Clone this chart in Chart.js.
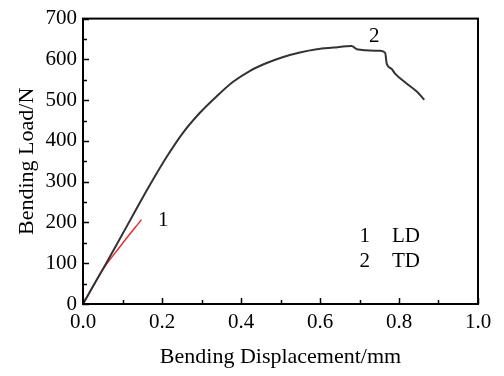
<!DOCTYPE html>
<html>
<head>
<meta charset="utf-8">
<script src="https://cdn.jsdelivr.net/npm/chart.js@4/dist/chart.umd.min.js"></script>
<style>
  html, body { margin: 0; padding: 0; background: #fff; }
  #wrap { width: 504px; height: 376px; }
</style>
</head>
<body>
<div id="wrap"><canvas id="load"></canvas></div>
<script>
// curve 1 (LD) and curve 2 (TD)
var ldDisp = [0, 0.024, 0.047, 0.098, 0.148];
var ldLoad = [0, 41, 80, 146, 207];

var tdDisp = [0, 0.025, 0.056, 0.094, 0.127, 0.17, 0.212, 0.254, 0.296, 0.338, 0.38, 0.423, 0.465, 0.507, 0.549, 0.592, 0.634, 0.68, 0.693, 0.752, 0.765, 0.769, 0.781, 0.79, 0.819, 0.845, 0.864];
var tdLoad = [0, 43, 95, 161, 219, 293, 361, 421, 469, 509, 545, 572, 591, 606, 617, 625, 629, 633, 625, 621, 616, 589, 577, 565, 541, 521, 501];

var xTicks = [0, 0.2, 0.4, 0.6, 0.8, 1.0];
var yTicks = [0, 100, 200, 300, 400, 500, 600, 700];

// text placed in data units
var notes = [
	{ text: '1', x: 0.19, y: 204 },
	{ text: '2', x: 0.724, y: 655 },
	{ text: '1', x: 0.70, y: 165 },
	{ text: 'LD', x: 0.782, y: 165 },
	{ text: '2', x: 0.70, y: 105 },
	{ text: 'TD', x: 0.782, y: 105 }
];

function pts(xs, ys) {
	return xs.map(function (v, i) { return { x: v, y: ys[i] }; });
}

var serif = "'Liberation Serif', 'Times New Roman', serif";

var frame = {
	id: 'frame',
	afterDraw: function (chart) {
		var c = chart.ctx, a = chart.chartArea;
		var sx = chart.scales.x, sy = chart.scales.y;
		c.save();
		c.strokeStyle = '#000';
		c.lineWidth = 1.5;
		c.beginPath();
		// inward ticks, major and minor
		for (var v = 0; v <= 1.0001; v += 0.1) {
			var px = Math.round(sx.getPixelForValue(v)) + 0.5;
			var len = (Math.round(v * 10) % 2 === 0) ? 6 : 4;
			c.moveTo(px, a.bottom);
			c.lineTo(px, a.bottom - len);
		}
		for (var w = 0; w <= 700; w += 50) {
			var py = Math.round(sy.getPixelForValue(w)) + 0.5;
			var l2 = (w % 100 === 0) ? 6 : 4;
			c.moveTo(a.left, py);
			c.lineTo(a.left + l2, py);
		}
		c.stroke();
		c.lineWidth = 2;
		c.strokeRect(a.left, a.top, a.right - a.left, a.bottom - a.top);
		c.fillStyle = '#000';
		c.font = '21px ' + serif;
		c.textAlign = 'left';
		c.textBaseline = 'middle';
		notes.forEach(function (n) {
			c.fillText(n.text, sx.getPixelForValue(n.x), sy.getPixelForValue(n.y));
		});
		c.restore();
	}
};

var ctx = document.getElementById('load').getContext('2d');
var chart = new Chart(ctx, {
	type: 'scatter',
	data: {
		datasets: [{
			label: 'TD',
			data: pts(tdDisp, tdLoad),
			showLine: true,
			borderColor: '#333',
			borderWidth: 2,
			pointRadius: 0,
			cubicInterpolationMode: 'monotone'
		}, {
			label: 'LD',
			data: pts(ldDisp, ldLoad),
			showLine: true,
			borderColor: '#ee2b2b',
			borderWidth: 1.5,
			pointRadius: 0,
			cubicInterpolationMode: 'monotone'
		}]
	},
	options: {
		responsive: true,
		maintainAspectRatio: false,
		animation: false,
		layout: { padding: { top: 12, right: 26, left: 0, bottom: 0 } },
		plugins: {
			legend: { display: false },
			tooltip: { enabled: false }
		},
		scales: {
			x: {
				type: 'linear',
				min: 0,
				max: 1.0,
				afterBuildTicks: function (s) { s.ticks = xTicks.map(function (v) { return { value: v }; }); },
				afterFit: function (s) { s.height = 72; },
				grid: { display: false, drawTicks: false },
				border: { display: false },
				ticks: {
					color: '#000',
					padding: 6,
					font: { family: serif, size: 21 },
					callback: function (v) { return v.toFixed(1); }
				},
				title: {
					display: true,
					text: 'Bending Displacement/mm',
					color: '#000',
					font: { family: serif, size: 22 },
					padding: { top: 0, bottom: 6 }
				}
			},
			y: {
				type: 'linear',
				min: 0,
				max: 700,
				afterBuildTicks: function (s) { s.ticks = yTicks.map(function (v) { return { value: v }; }); },
				afterFit: function (s) { s.width = 83; },
				grid: { display: false, drawTicks: false },
				border: { display: false },
				ticks: {
					color: '#000',
					padding: 6,
					font: { family: serif, size: 21 }
				},
				title: {
					display: true,
					text: 'Bending Load/N',
					color: '#000',
					font: { family: serif, size: 22 },
					padding: { top: 14, bottom: 0 }
				}
			}
		}
	},
	plugins: [frame]
});
</script>
</body>
</html>
